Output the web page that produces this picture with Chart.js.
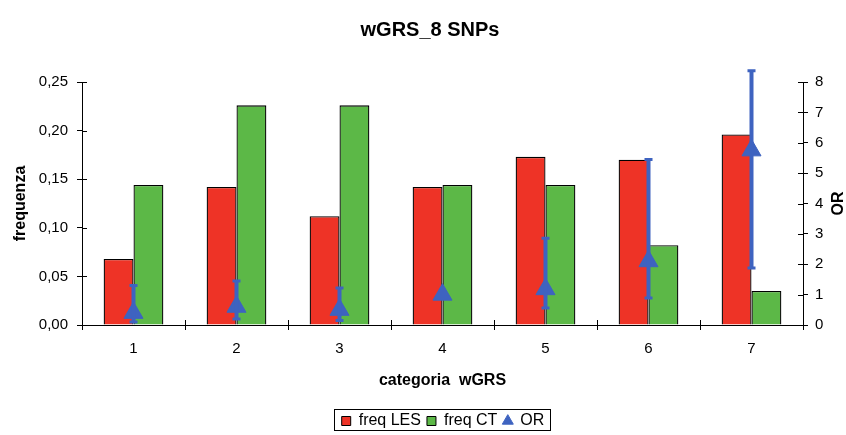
<!DOCTYPE html>
<html>
<head>
<meta charset="utf-8">
<script src="https://cdn.jsdelivr.net/npm/chart.js@4"></script>
<style>
  html, body { margin: 0; padding: 0; background: #fff; }
  #wrap { width: 846px; height: 435px; }
</style>
</head>
<body>
<div id="wrap"><canvas id="grsChart" width="846" height="435"></canvas></div>
<script>
const categorie = ['1', '2', '3', '4', '5', '6', '7'];
const freqLES = [0.068, 0.142, 0.112, 0.142, 0.173, 0.170, 0.196];
const freqCT = [0.144, 0.226, 0.226, 0.144, 0.144, 0.082, 0.035];
const orValori = [0.40, 0.60, 0.50, 1.00, 1.18, 2.10, 5.75];
const orBasso = [0.10, 0.20, 0.15, 1.00, 0.56, 0.89, 1.88];
const orAlto = [1.30, 1.45, 1.22, 1.00, 2.86, 5.45, 8.37];
const voceLegenda = ['freq LES', 'freq CT', 'OR'];

const rosso = '#ee3326';
const verde = '#5cb847';
const blu = '#3e63c0';
const font = 'Liberation Sans, Arial, sans-serif';

// barre di errore per OR
const erroriPlugin = {
    id: 'errori',
    afterDatasetsDraw(chart) {
        const c = chart.ctx;
        const x = chart.scales.x;
        const y = chart.scales.yOR;
        c.save();
        c.strokeStyle = blu;
        orValori.forEach((v, i) => {
            if (orBasso[i] === orAlto[i]) return;
            const px = x.getPixelForValue(i);
            const top = y.getPixelForValue(orAlto[i]);
            const bot = y.getPixelForValue(orBasso[i]);
            c.lineWidth = 4;
            c.beginPath();
            c.moveTo(px, top);
            c.lineTo(px, bot);
            c.stroke();
            c.lineWidth = 3;
            c.beginPath();
            c.moveTo(px - 4, top); c.lineTo(px + 4, top);
            c.moveTo(px - 4, bot); c.lineTo(px + 4, bot);
            c.stroke();
        });
        c.restore();
    }
};

// titolo, titoli degli assi y, cornice legenda, tacche che attraversano gli assi
const extraPlugin = {
    id: 'extra',
    afterLayout(chart) {
        // legenda centrata come nell'originale
        const l = chart.legend;
        l.left += 20;
        l.right += 20;
    },
    afterDraw(chart) {
        const c = chart.ctx;
        const a = chart.chartArea;
        const midY = (a.top + a.bottom) / 2;

        c.save();
        c.fillStyle = '#000';
        c.font = 'bold 20px ' + font;
        c.textAlign = 'center';
        c.textBaseline = 'middle';
        c.fillText('wGRS_8 SNPs', 430, 30);
        c.restore();

        c.save();
        c.fillStyle = '#000';
        c.font = 'bold 16px ' + font;
        c.textAlign = 'center';
        c.textBaseline = 'middle';
        c.translate(a.right + 36, midY);
        c.rotate(-Math.PI / 2);
        c.fillText('OR', 0, 0);
        c.restore();

        c.save();
        c.fillStyle = '#000';
        c.font = 'bold 16px ' + font;
        c.textAlign = 'center';
        c.textBaseline = 'middle';
        c.translate(21, midY);
        c.rotate(-Math.PI / 2);
        c.fillText('frequenza', 0, 0);
        c.restore();

        // cornice della legenda
        const l = chart.legend;
        c.save();
        c.font = '16px ' + font;
        let tot = 0;
        voceLegenda.forEach(t => { tot += 9 + 8 + c.measureText(t).width; });
        tot += 6 * (voceLegenda.length - 1);
        const cx = (l.left + l.right) / 2;
        const x0 = Math.round(cx - tot / 2 - 8);
        const x1 = Math.round(cx + tot / 2 + 6);
        const y0 = Math.round(l.top + 2);
        c.strokeStyle = '#000';
        c.lineWidth = 1;
        c.strokeRect(x0 + 0.5, y0 + 0.5, x1 - x0, 21);
        c.restore();

        c.save();
        c.strokeStyle = '#000';
        c.lineWidth = 1;
        c.beginPath();
        chart.scales.yF.ticks.forEach(t => {
            const py = Math.round(chart.scales.yF.getPixelForValue(t.value)) + 0.5;
            c.moveTo(a.left, py); c.lineTo(a.left + 5, py);
        });
        chart.scales.yOR.ticks.forEach(t => {
            const py = Math.round(chart.scales.yOR.getPixelForValue(t.value)) + 0.5;
            c.moveTo(a.right - 5, py); c.lineTo(a.right, py);
        });
        for (let i = 0; i <= categorie.length; i++) {
            const px = Math.round(a.left + (a.right - a.left) * i / categorie.length) + 0.5;
            c.moveTo(px, a.bottom - 5); c.lineTo(px, a.bottom);
        }
        c.stroke();
        c.restore();
    }
};

new Chart(document.getElementById('grsChart'), {
    data: {
        labels: categorie,
        datasets: [
            {
                type: 'line',
                label: 'OR',
                data: orValori,
                yAxisID: 'yOR',
                showLine: false,
                pointStyle: 'triangle',
                pointRadius: 11,
                pointBackgroundColor: blu,
                pointBorderColor: blu,
                backgroundColor: blu,
                borderColor: blu,
                order: 0
            },
            {
                type: 'bar',
                label: 'freq LES',
                data: freqLES,
                yAxisID: 'yF',
                backgroundColor: rosso,
                borderColor: '#000',
                borderWidth: 1.3,
                categoryPercentage: 0.58,
                barPercentage: 1,
                order: 1
            },
            {
                type: 'bar',
                label: 'freq CT',
                data: freqCT,
                yAxisID: 'yF',
                backgroundColor: verde,
                borderColor: '#000',
                borderWidth: 1.3,
                categoryPercentage: 0.58,
                barPercentage: 1,
                order: 1
            }
        ]
    },
    options: {
        responsive: false,
        animation: false,
        layout: { padding: { left: 0, right: 0, top: 82, bottom: -4 } },
        plugins: {
            title: { display: false },
            legend: {
                position: 'bottom',
                labels: {
                    color: '#000',
                    font: { family: font, size: 16 },
                    boxWidth: 9,
                    boxHeight: 9,
                    padding: 6,
                    generateLabels(chart) {
                        return [
                            { text: voceLegenda[0], fillStyle: rosso, strokeStyle: '#000', lineWidth: 1, pointStyle: 'rect', datasetIndex: 1 },
                            { text: voceLegenda[1], fillStyle: verde, strokeStyle: '#000', lineWidth: 1, pointStyle: 'rect', datasetIndex: 2 },
                            { text: voceLegenda[2], fillStyle: blu, strokeStyle: blu, lineWidth: 1, pointStyle: 'triangle', datasetIndex: 0 }
                        ];
                    },
                    usePointStyle: true
                }
            },
            tooltip: { enabled: false }
        },
        scales: {
            x: {
                offset: true,
                grid: { display: true, drawOnChartArea: false, offset: true, color: '#000', tickLength: 5 },
                border: { color: '#000', width: 1 },
                ticks: { color: '#000', font: { family: font, size: 15 }, padding: 10 },
                title: {
                    display: true,
                    text: 'categoria  wGRS',
                    color: '#000',
                    font: { family: font, size: 16, weight: 'bold' },
                    padding: { top: 6, bottom: 17 }
                },
                afterFit: s => { s.height = 82; }
            },
            yF: {
                position: 'left',
                min: 0,
                max: 0.25,
                ticks: {
                    stepSize: 0.05,
                    color: '#000',
                    font: { family: font, size: 15 },
                    padding: 9,
                    callback: v => v.toFixed(2).replace('.', ',')
                },
                grid: { drawOnChartArea: false, color: '#000', tickLength: 5 },
                border: { color: '#000', width: 1 },
                afterFit: s => { s.width = 82; }
            },
            yOR: {
                position: 'right',
                min: 0,
                max: 8,
                ticks: {
                    stepSize: 1,
                    color: '#000',
                    font: { family: font, size: 15 },
                    padding: 7
                },
                grid: { drawOnChartArea: false, color: '#000', tickLength: 5 },
                border: { color: '#000', width: 1 },
                afterFit: s => { s.width = 43; }
            }
        }
    },
    plugins: [erroriPlugin, extraPlugin]
});
</script>
</body>
</html>
